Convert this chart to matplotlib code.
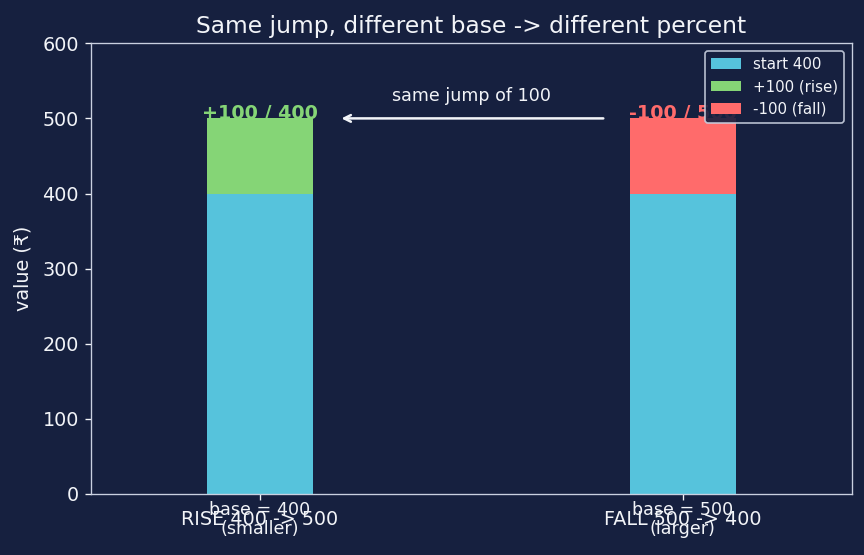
import matplotlib
matplotlib.use('Agg')
import matplotlib.pyplot as plt
import numpy as np

categories = ['RISE 400 -> 500', 'FALL 500 -> 400']
start_vals = [400, 400]
jump_vals = [100, 100]
base_vals = [400, 500]
base_notes = ['(smaller)', '(larger)']
jump_labels = ['+100 / 400', '-100 / 500']
legend_labels = ['start 400', '+100 (rise)', '-100 (fall)']

bg = '#16203f'
fg = '#f2f4f8'
c_start = '#56c3dc'
c_rise = '#85d576'
c_fall = '#ff6b6b'

fig, ax = plt.subplots(figsize=(7.2, 4.625), dpi=120)
fig.patch.set_facecolor(bg)
ax.set_facecolor(bg)

x = np.arange(len(categories))
w = 0.25
ax.bar(x, start_vals, w, color=c_start, label=legend_labels[0])
ax.bar(x[0], jump_vals[0], w, bottom=start_vals[0], color=c_rise, label=legend_labels[1])
ax.bar(x[1], jump_vals[1], w, bottom=start_vals[1], color=c_fall, label=legend_labels[2])

top = [s + j for s, j in zip(start_vals, jump_vals)]
ax.text(x[0], top[0] + 7, jump_labels[0], color=c_rise, ha='center', va='center',
        fontsize=11.5, fontweight='bold')
ax.text(x[1], top[1] + 7, jump_labels[1], color=c_fall, ha='center', va='center',
        fontsize=11.5, fontweight='bold')

ax.annotate('', xy=(0.185, 500), xytext=(0.82, 500),
            arrowprops=dict(arrowstyle='->', color=fg, lw=1.5))
ax.text(0.5, 530, 'same jump of 100', color=fg, ha='center', va='center', fontsize=10.5)

for i in range(len(categories)):
    ax.text(x[i], -9, f'base = {base_vals[i]}\n{base_notes[i]}', color=fg,
            ha='center', va='top', fontsize=10.5, linespacing=1.1)

ax.set_xticks(x)
ax.set_xticklabels(categories, fontsize=11.5)
ax.set_xlim(-0.4, 1.4)
ax.set_ylim(0, 600)
ax.set_ylabel('value (₹)', color=fg, fontsize=11.5, labelpad=6)
ax.set_title('Same jump, different base -> different percent', color=fg, fontsize=14)
ax.tick_params(colors=fg, labelsize=11.5)
ax.tick_params(axis='x', pad=6)
for s in ax.spines.values():
    s.set_color('#c9d0e0')

leg = ax.legend(loc='upper right', fontsize=9, facecolor=bg, edgecolor='#c9d0e0',
                framealpha=0.9)
for t in leg.get_texts():
    t.set_color(fg)

plt.subplots_adjust(left=0.105, right=0.986, top=0.922, bottom=0.11)
plt.savefig('out.png', facecolor=bg)
